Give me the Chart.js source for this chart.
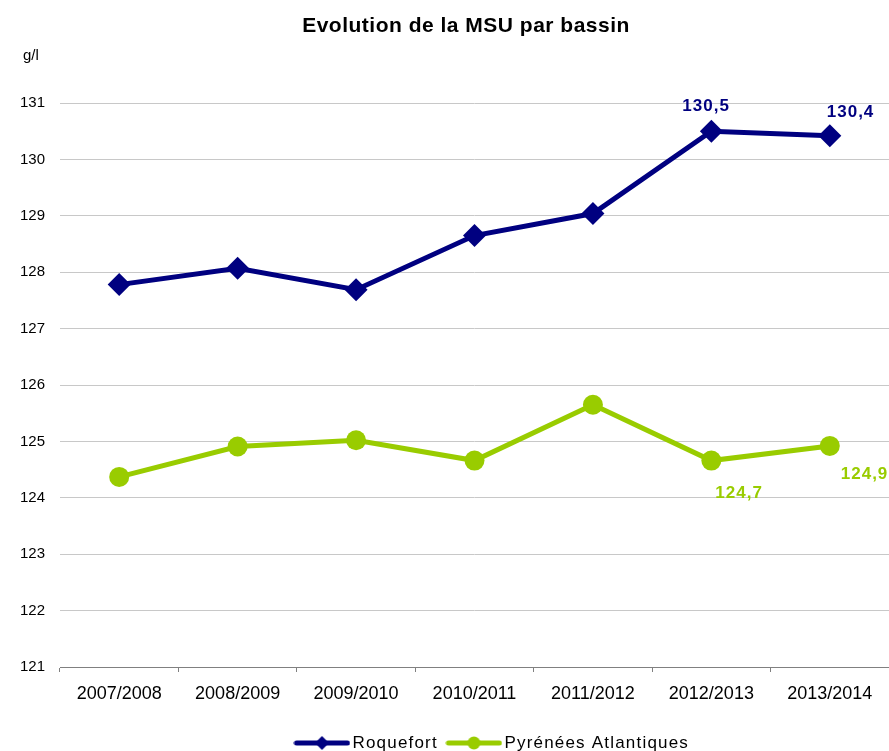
<!DOCTYPE html>
<html>
<head>
<meta charset="utf-8">
<title>Evolution de la MSU par bassin</title>
<script src="https://cdn.jsdelivr.net/npm/chart.js@4"></script>
<style>
  html, body { margin: 0; padding: 0; background: #fff; }
</style>
</head>
<body>
<canvas id="msuChart" width="889" height="751"></canvas>
<script>
// Data
const seasons = ["2007/2008", "2008/2009", "2009/2010", "2010/2011", "2011/2012", "2012/2013", "2013/2014"];
const roquefort = [127.78, 128.07, 127.69, 128.65, 129.04, 130.50, 130.42];
const pyrenees = [124.37, 124.91, 125.02, 124.66, 125.65, 124.66, 124.92];
const seriesNames = ["Roquefort", "Pyrénées Atlantiques"];
const yMin = 121, yMax = 131, yStep = 1;
const labelledPoints = [5, 6];   // only the last two seasons carry a value label

const navy = "#000080";
const green = "#99cc00";
const FONT = "'Liberation Sans', Arial, sans-serif";

// Legend icon: line with marker in the middle
function legendIcon(color, shape) {
  const c = document.createElement("canvas");
  c.width = 57; c.height = 16;
  const g = c.getContext("2d");
  g.strokeStyle = color; g.fillStyle = color;
  g.lineWidth = 5; g.lineCap = "round";
  g.beginPath(); g.moveTo(3, 8); g.lineTo(54, 8); g.stroke();
  g.beginPath();
  if (shape === "diamond") {
    g.moveTo(28.5, 1); g.lineTo(35.5, 8); g.lineTo(28.5, 15); g.lineTo(21.5, 8); g.closePath();
  } else {
    g.arc(28.5, 8, 6.5, 0, Math.PI * 2);
  }
  g.fill();
  return c;
}
const icons = [legendIcon(navy, "diamond"), legendIcon(green, "circle")];

// Title, unit and value labels, plus letter spacing for the legend
const extras = {
  id: "extras",
  beforeLayout(chart) {
    const lg = chart.legend;
    if (lg && !lg._spaced) {
      const fit = lg.fit, draw = lg.draw;
      lg.fit = function () { chart.ctx.save(); chart.ctx.letterSpacing = "1.2px"; fit.call(this); chart.ctx.restore(); };
      lg.draw = function () { chart.ctx.save(); chart.ctx.letterSpacing = "1.2px"; draw.call(this); chart.ctx.restore(); };
      lg._spaced = true;
    }
  },
  afterLayout(chart) {
    chart.legend.left += 50;
    chart.legend.right += 50;
  },
  afterDraw(chart) {
    const ctx = chart.ctx;
    ctx.save();
    ctx.fillStyle = "#000";
    ctx.textAlign = "center";
    ctx.textBaseline = "alphabetic";
    ctx.font = "bold 21px " + FONT;
    ctx.letterSpacing = "0.5px";
    ctx.fillText("Evolution de la MSU par bassin", 466, 32);

    ctx.letterSpacing = "0px";
    ctx.textAlign = "left";
    ctx.font = "15px " + FONT;
    ctx.fillText("g/l", 23, 60);

    const offsets = [[[-29, -20], [-3, -19]], [[4, 37], [11, 33]]];
    ctx.font = "bold 17px " + FONT;
    ctx.letterSpacing = "1px";
    chart.data.datasets.forEach((ds, di) => {
      const meta = chart.getDatasetMeta(di);
      ctx.fillStyle = ds.borderColor;
      labelledPoints.forEach((idx, k) => {
        const pt = meta.data[idx];
        const [dx, dy] = offsets[di][k];
        ctx.fillText(ds.data[idx].toFixed(1).replace(".", ","), pt.x + dx, pt.y + dy);
      });
    });
    ctx.restore();
  }
};

const ctx = document.getElementById("msuChart").getContext("2d");
new Chart(ctx, {
  type: "line",
  data: {
    labels: seasons,
    datasets: [{
      label: seriesNames[0],
      data: roquefort,
      borderColor: navy,
      backgroundColor: navy,
      borderWidth: 5,
      pointStyle: "rectRot",
      pointRadius: 11.5,
      pointHoverRadius: 11.5,
      pointBorderWidth: 0,
      tension: 0
    }, {
      label: seriesNames[1],
      data: pyrenees,
      borderColor: green,
      backgroundColor: green,
      borderWidth: 5,
      pointStyle: "circle",
      pointRadius: 10,
      pointHoverRadius: 10,
      pointBorderWidth: 0,
      tension: 0
    }]
  },
  options: {
    responsive: false,
    animation: false,
    layout: { autoPadding: false, padding: { top: 103, left: 0, right: 0, bottom: -10.5 } },
    plugins: {
      title: { display: false },
      tooltip: { enabled: false },
      legend: {
        position: "bottom",
        labels: {
          usePointStyle: true,
          pointStyleWidth: 44,
          padding: 14,
          color: "#000",
          font: { family: FONT, size: 17 },
          generateLabels(chart) {
            const items = Chart.defaults.plugins.legend.labels.generateLabels(chart);
            items.forEach((it, i) => { it.pointStyle = icons[i]; });
            return items;
          }
        }
      }
    },
    scales: {
      x: {
        offset: true,
        afterFit(scale) {
          scale.height = 53.5;
          scale.paddingLeft = 0;
          scale.paddingRight = 0;
        },
        grid: { offset: true, drawOnChartArea: false, drawTicks: true, tickLength: 5, color: "#808080" },
        border: { color: "#808080", width: 1 },
        ticks: { color: "#000", padding: 11, maxRotation: 0, font: { family: FONT, size: 18 } }
      },
      y: {
        min: yMin,
        max: yMax,
        afterFit(scale) { scale.width = 60; },
        grid: { color: "#c8c8c8", drawTicks: false },
        border: { display: false },
        ticks: { stepSize: yStep, color: "#000", padding: 15, font: { family: FONT, size: 15 } }
      }
    }
  },
  plugins: [extras]
});
</script>
</body>
</html>
